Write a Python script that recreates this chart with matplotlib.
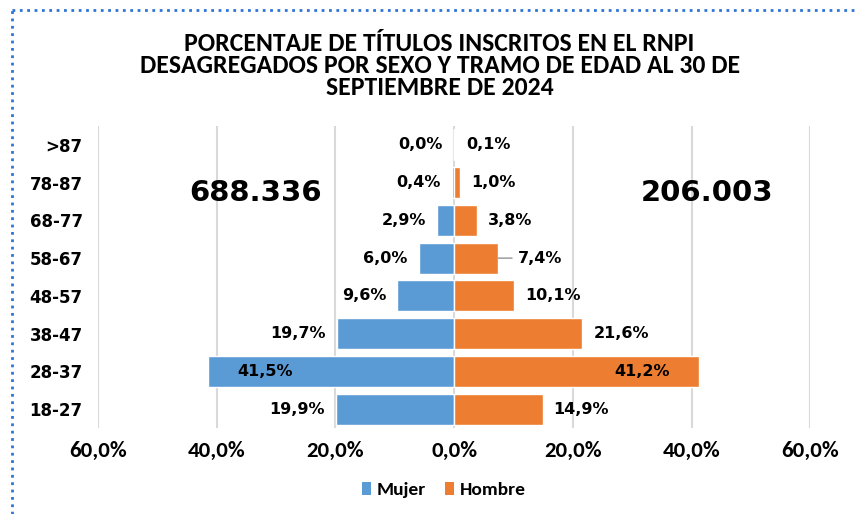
import matplotlib.pyplot as plt
from matplotlib.lines import Line2D
from matplotlib.patches import Patch
from matplotlib import font_manager
import numpy as np

# Data (bottom to top)
tramos = ['18-27', '28-37', '38-47', '48-57', '58-67', '68-77', '78-87', '>87']
mujer = [19.9, 41.5, 19.7, 9.6, 6.0, 2.9, 0.4, 0.0]
hombre = [14.9, 41.2, 21.6, 10.1, 7.4, 3.8, 1.0, 0.1]
total_mujer = '688.336'
total_hombre = '206.003'
ticks = [-60, -40, -20, 0, 20, 40, 60]

azul = '#5B9BD5'
naranja = '#ED7D31'

names = {f.name for f in font_manager.fontManager.ttflist}
narrow = 'Carlito' if 'Carlito' in names else 'DejaVu Sans'

fig = plt.figure(figsize=(8.57, 5.14), dpi=100)
ax = fig.add_axes([0.1144, 0.1673, 0.831, 0.5875])

y = np.arange(len(tramos))
ax.barh(y, [-m for m in mujer], height=0.82, color=azul, edgecolor='white', linewidth=1, zorder=3)
ax.barh(y, hombre, height=0.82, color=naranja, edgecolor='white', linewidth=1, zorder=3)

ax.set_xlim(-60, 60)
ax.set_ylim(-0.5, len(tramos) - 0.5)
ax.set_xticks(ticks)
ax.set_xticklabels([('%.1f%%' % abs(t)).replace('.', ',') for t in ticks],
                   fontfamily=narrow, fontweight='bold', fontsize=16.5)
ax.set_yticks(y)
ax.set_yticklabels(tramos, fontweight='bold', fontsize=12)
ax.tick_params(axis='both', length=0)
ax.tick_params(axis='x', pad=9)
ax.tick_params(axis='y', pad=11)
ax.grid(axis='x', color='#d9d9d9', linewidth=1.5, zorder=0)
for s in ax.spines.values():
    s.set_visible(False)

def fmt(v):
    return ('%.1f%%' % v).replace('.', ',')

for i, (m, h) in enumerate(zip(mujer, hombre)):
    if m > 30:
        ax.annotate(fmt(m), (-m, i), xytext=(21, 0), textcoords='offset points',
                    ha='left', va='center', fontweight='bold', fontsize=11.5, zorder=4)
    else:
        ax.annotate(fmt(m), (-m, i), xytext=(-8, 0), textcoords='offset points',
                    ha='right', va='center', fontweight='bold', fontsize=11.5, zorder=4)
    if h > 30:
        ax.annotate(fmt(h), (h, i), xytext=(-21, 0), textcoords='offset points',
                    ha='right', va='center', fontweight='bold', fontsize=11.5, zorder=4)
    elif tramos[i] == '58-67':
        ax.annotate(fmt(h), (h, i), xytext=(14, 0), textcoords='offset points',
                    ha='left', va='center', fontweight='bold', fontsize=11.5, zorder=4,
                    arrowprops=dict(arrowstyle='-', color='#a6a6a6', lw=1.2,
                                    shrinkA=2, shrinkB=0))
    else:
        ax.annotate(fmt(h), (h, i), xytext=(8, 0), textcoords='offset points',
                    ha='left', va='center', fontweight='bold', fontsize=11.5, zorder=4)

# totals
ax.text(-33.5, 5.72, total_mujer, ha='center', va='center', fontsize=21, fontweight='bold')
ax.text(42.6, 5.72, total_hombre, ha='center', va='center', fontsize=21, fontweight='bold')

fig.text(0.513, 1 - 65.5 / 514,
         'PORCENTAJE DE TÍTULOS INSCRITOS EN EL RNPI\nDESAGREGADOS POR SEXO Y TRAMO DE EDAD AL 30 DE\nSEPTIEMBRE DE 2024',
         ha='center', va='center', fontfamily=narrow, fontweight='bold', fontsize=18.5,
         linespacing=0.96)

handles = [Patch(facecolor=azul), Patch(facecolor=naranja)]
fig.legend(handles, ['Mujer', 'Hombre'], loc='center', bbox_to_anchor=(0.518, 0.047),
           ncol=2, frameon=False, handlelength=0.45, handleheight=0.7, handletextpad=0.3,
           columnspacing=1.0, prop={'family': narrow, 'weight': 'bold', 'size': 14})

# dotted border of the chart box
fig.add_artist(Line2D([12 / 857, 12 / 857], [0, 1 - 10 / 514], color='#2E75D6',
                      linestyle=':', linewidth=2, transform=fig.transFigure))
fig.add_artist(Line2D([12 / 857, 1], [1 - 10 / 514, 1 - 10 / 514], color='#2E75D6',
                      linestyle=':', linewidth=2, transform=fig.transFigure))

fig.savefig('out.png', dpi=100)
